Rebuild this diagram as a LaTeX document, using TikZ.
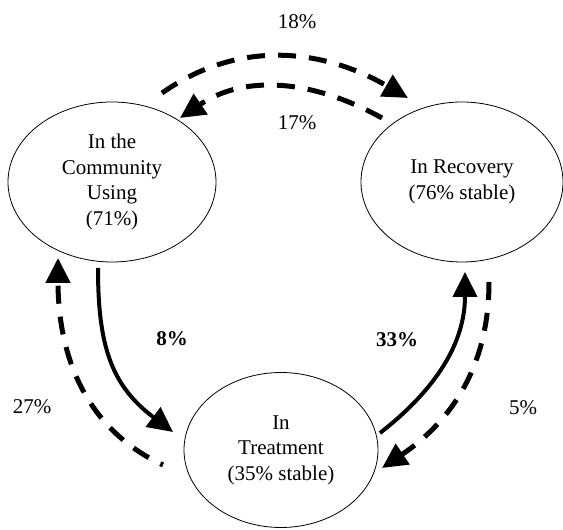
\documentclass[tikz,border=0pt]{standalone}
\usepackage{fontspec}
\setmainfont{Liberation Serif}
\usetikzlibrary{arrows.meta,shapes.geometric}

\tikzset{
	estado/.style={draw,ellipse,line width=0.8pt,inner sep=0pt,align=center,font=\fontsize{21}{25.5}\selectfont},
	taxa/.style={font=\fontsize{21}{25.5}\selectfont},
	fluxo/.style={line width=4pt,-{Triangle[length=25pt,width=24pt]}},
	tracejado/.style={fluxo,line width=5pt,dash pattern=on 18pt off 13pt}
}

\begin{document}
\begin{tikzpicture}[x=1pt,y=1pt]
		\useasboundingbox (0,0) rectangle (563,530);
		
%		estados
		\node[estado,minimum width=208pt,minimum height=160pt] (com) at (112,348) {In the\\Community\\Using\\(71\%)};
		\node[estado,minimum width=202pt,minimum height=160pt] (rec) at (462,348) {In Recovery\\(76\% stable)};
		\node[estado,minimum width=194pt,minimum height=155pt] (tre) at (281,80) {In\\Treatment\\(35\% stable)};
		
%		pontas das setas
		\coordinate (c1) at (162,437);
		\coordinate (r1) at (408,432);
		\coordinate (r2) at (382,412);
		\coordinate (c2) at (180,412);
		\coordinate (c3) at (98,262);
		\coordinate (t1) at (173,98);
		\coordinate (t2) at (163,65);
		\coordinate (c4) at (58,272);
		\coordinate (t3) at (380,97);
		\coordinate (r3) at (465,258);
		\coordinate (r4) at (489,248);
		\coordinate (t4) at (382,62);
		
%		arcos de cima
		\draw[tracejado] (c1) to[out=35,in=150] (r1);
		\draw[tracejado] (r2) to[out=151,in=34] (c2);
		
%		lado esquerdo
		\draw[fluxo] (c3) to[out=-90,in=143,looseness=1.1] (t1);
		\draw[tracejado,dash phase=15pt] (t2) to[out=155,in=-90] (c4);
		
%		lado direito
		\draw[fluxo] (t3) to[out=38,in=-90] (r3);
		\draw[tracejado] (r4) to[out=-90,in=34] (t4);
		
		\node[taxa] (p18) at (297,508) {18\%};
		\node[taxa] (p17) at (297,407) {17\%};
		\node[taxa] (p8) at (172,191) {\textbf{8\%}};
		\node[taxa] (p33) at (397,190) {\textbf{33\%}};
		\node[taxa] (p27) at (32,123) {27\%};
		\node[taxa] (p5) at (523,122) {5\%};
		\end{tikzpicture}
\end{document}
